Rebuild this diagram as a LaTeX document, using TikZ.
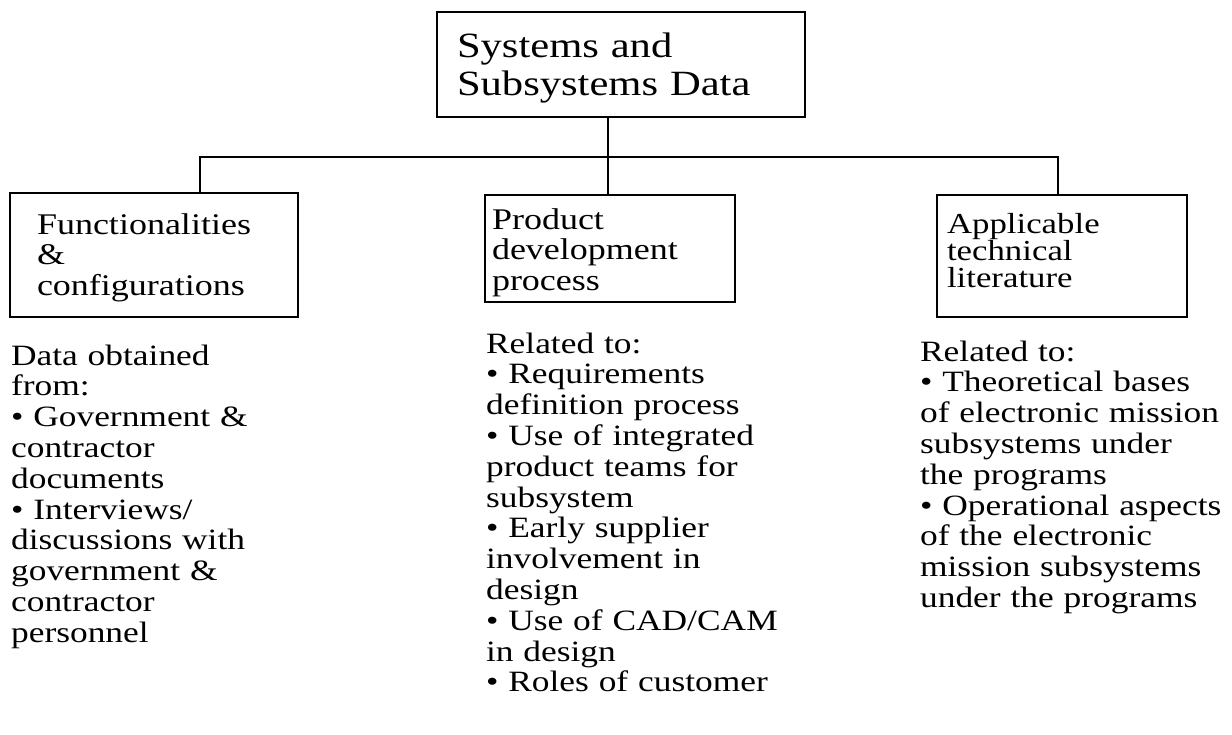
\documentclass[tikz,border=0pt]{standalone}
\usepackage{fontspec}
\setmainfont{Liberation Serif}[FakeStretch=1.2]

\begin{document}
\begin{tikzpicture}[
  x=1pt, y=-1pt,
  line width=2.2pt,
  databox/.style={draw, anchor=north west, outer sep=0pt, inner ysep=0pt,
    align=left, font=\fontsize{30}{30.5}\selectfont},
  datalist/.style={anchor=base west, inner sep=0pt, align=left,
    text width=330pt, font=\fontsize{29.5}{30.8}\selectfont}
]
\useasboundingbox (0,0) rectangle (1232,734);
% top box
\node[databox, inner xsep=20pt, text width=328pt, text height=45pt,
  text depth=60pt, font=\fontsize{35.5}{38}\selectfont]
  (sys) at (437,12) {Systems and\\Subsystems Data};
% second row
\node[databox, inner xsep=27pt, text width=234pt, text height=41pt,
  text depth=83pt]
  (func) at (10,193) {Functionalities\\\&\\configurations};
\node[databox, inner xsep=7pt, text width=236pt, text height=34pt,
  text depth=73pt]
  (prod) at (485,195) {Product\\development\\process};
\node[databox, inner xsep=10pt, text width=230pt, text height=38pt,
  text depth=84pt, font=\fontsize{29}{27}\selectfont]
  (lit) at (937,195) {Applicable\\technical\\literature};
% connectors
\coordinate (hub) at (608,157);
\coordinate (lhub) at (200,157);
\coordinate (rhub) at (1058,157);
\draw (sys.south -| hub) -- (hub |- prod.north);
\draw (lhub |- func.north) -- (lhub) -- (rhub) -- (rhub |- lit.north);
% lists under the boxes
\node[datalist] (fromlist) at (10,365)
  {Data obtained\\from:\\\textbullet{} Government \&\\contractor\\documents\\
   \textbullet{} Interviews/\\discussions with\\government \&\\contractor\\personnel};
\node[datalist] (prodlist) at (485,353)
  {Related to:\\\textbullet{} Requirements\\definition process\\
   \textbullet{} Use of integrated\\product teams for\\subsystem\\
   \textbullet{} Early supplier\\involvement in\\design\\
   \textbullet{} Use of CAD/CAM\\in design\\\textbullet{} Roles of customer};
\node[datalist] (litlist) at (919,361)
  {Related to:\\\textbullet{} Theoretical bases\\of electronic mission\\
   subsystems under\\the programs\\\textbullet{} Operational aspects\\
   of the electronic\\mission subsystems\\under the programs};
\end{tikzpicture}
\end{document}
